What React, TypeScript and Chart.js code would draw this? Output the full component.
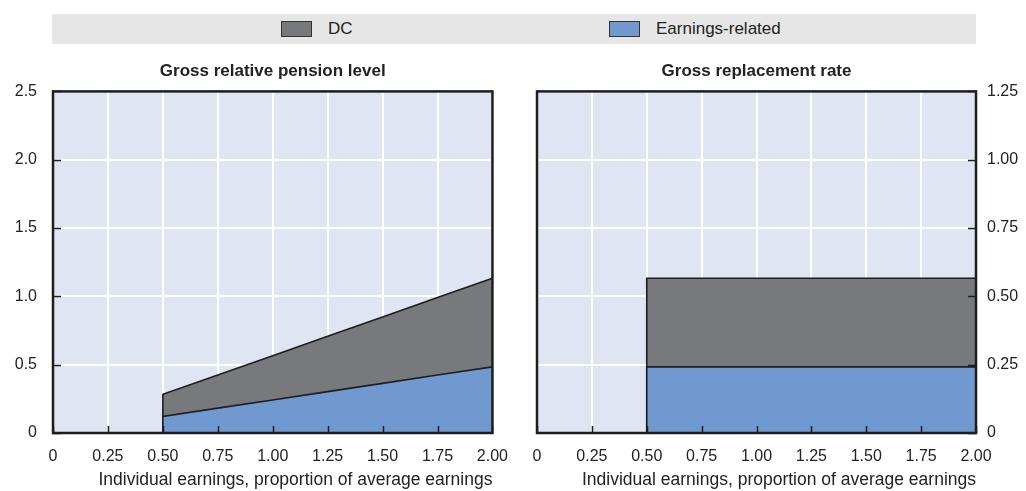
import React, { useEffect, useRef } from "react";
import { Chart, registerables } from "chart.js";

Chart.register(...registerables);

// ---- Data ----
const earnings = [0, 0.25, 0.5, 0.5, 0.75, 1.0, 1.25, 1.5, 1.75, 2.0];
const levelEarningsRelated = [0, 0, 0, 0.121, 0.182, 0.242, 0.303, 0.363, 0.424, 0.484];
const levelDC = [0, 0, 0, 0.162, 0.243, 0.324, 0.405, 0.486, 0.567, 0.648];
const rateEarningsRelated = [0, 0, 0, 0.242, 0.242, 0.242, 0.242, 0.242, 0.242, 0.242];
const rateDC = [0, 0, 0, 0.324, 0.324, 0.324, 0.324, 0.324, 0.324, 0.324];

const xTickLabels = ["0", "0.25", "0.50", "0.75", "1.00", "1.25", "1.50", "1.75", "2.00"];
const yTickLabelsLevel = ["0", "0.5", "1.0", "1.5", "2.0", "2.5"];
const yTickLabelsRate = ["0", "0.25", "0.50", "0.75", "1.00", "1.25"];

const seriesNames = ["DC", "Earnings-related"];
const titles = ["Gross relative pension level", "Gross replacement rate"];
const xTitle = "Individual earnings, proportion of average earnings";

// ---- Styles ----
const COLOR_DC = "#78797c";
const COLOR_ER = "#7099d0";
const PLOT_BG = "#dfe5f2";
const BAND_BG = "#e6e6e6";
const DARK = "#1e1e1e";
const TEXT = "#222222";
const FONT = "'Liberation Sans', Arial, sans-serif";

const frame = {
  id: "frame",
  beforeDraw(chart: any) {
    const { ctx, chartArea: a } = chart;
    ctx.save();
    ctx.fillStyle = PLOT_BG;
    ctx.fillRect(a.left, a.top, a.right - a.left, a.bottom - a.top);
    ctx.restore();
  },
  afterDatasetsDraw(chart: any) {
    const { ctx, chartArea: a } = chart;
    const xs = chart.scales.x;
    const ys = chart.scales.y;
    ctx.save();
    ctx.strokeStyle = DARK;
    ctx.lineWidth = 1.5;
    ctx.beginPath();
    xs.ticks.forEach((t: any) => {
      const px = Math.round(xs.getPixelForValue(t.value)) + 0.5;
      ctx.moveTo(px, a.bottom);
      ctx.lineTo(px, a.bottom - 7);
    });
    const onRight = ys.position === "right";
    ys.ticks.forEach((t: any) => {
      const py = Math.round(ys.getPixelForValue(t.value)) + 0.5;
      if (onRight) {
        ctx.moveTo(a.right, py);
        ctx.lineTo(a.right - 8, py);
      } else {
        ctx.moveTo(a.left, py);
        ctx.lineTo(a.left + 8, py);
      }
    });
    ctx.stroke();
    ctx.lineWidth = 2.5;
    ctx.strokeRect(a.left, a.top, a.right - a.left, a.bottom - a.top);
    ctx.restore();
  },
};

function makeConfig(
  er: number[],
  dc: number[],
  yMax: number,
  yStep: number,
  yLabels: string[],
  title: string,
  yPos: "left" | "right",
  axisWidth: number,
  pad: { left: number; right: number }
): any {
  const erPts = earnings.map((x, i) => ({ x, y: er[i] }));
  const totPts = earnings.map((x, i) => ({ x, y: er[i] + dc[i] }));
  return {
    type: "line",
    data: {
      datasets: [
        {
          label: seriesNames[1],
          data: erPts,
          backgroundColor: COLOR_ER,
          borderColor: DARK,
          borderWidth: 1.6,
          fill: "origin",
          pointRadius: 0,
          tension: 0,
        },
        {
          label: seriesNames[0],
          data: totPts,
          backgroundColor: COLOR_DC,
          borderColor: DARK,
          borderWidth: 1.6,
          fill: "-1",
          pointRadius: 0,
          tension: 0,
        },
      ],
    },
    options: {
      animation: false,
      responsive: false,
      maintainAspectRatio: false,
      layout: { padding: { left: pad.left, right: pad.right, top: 0, bottom: 0 } },
      plugins: {
        legend: { display: false },
        tooltip: { enabled: false },
        title: {
          display: true,
          fullSize: false,
          text: title,
          color: TEXT,
          font: { family: FONT, size: 17, weight: "bold", lineHeight: 1.2 },
          padding: { top: 11, bottom: 10 },
        },
      },
      scales: {
        x: {
          type: "linear",
          min: 0,
          max: 2,
          afterFit: (s: any) => {
            s.height = 58;
          },
          ticks: {
            stepSize: 0.25,
            color: TEXT,
            padding: 14,
            maxRotation: 0,
            autoSkip: false,
            font: { family: FONT, size: 16 },
            callback: (_v: any, i: number) => xTickLabels[i],
          },
          grid: { color: "#ffffff", lineWidth: 2, drawTicks: false },
          border: { display: false },
          title: {
            display: true,
            text: xTitle,
            align: "end",
            color: TEXT,
            font: { family: FONT, size: 17.5, lineHeight: 1.2 },
            padding: { top: 0, bottom: 0 },
          },
        },
        y: {
          type: "linear",
          position: yPos,
          min: 0,
          max: yMax,
          afterFit: (s: any) => {
            s.width = axisWidth;
          },
          ticks: {
            stepSize: yStep,
            color: TEXT,
            padding: yPos === "left" ? 16 : 11,
            font: { family: FONT, size: 16 },
            callback: (_v: any, i: number) => yLabels[i],
          },
          grid: { color: "#ffffff", lineWidth: 2, drawTicks: false },
          border: { display: false },
        },
      },
    },
    plugins: [frame],
  };
}

function Panel(props: { config: any; left: number; width: number }) {
  const ref = useRef<HTMLCanvasElement | null>(null);
  useEffect(() => {
    if (!ref.current) return;
    const chart = new Chart(ref.current, props.config);
    return () => chart.destroy();
  }, []);
  return (
    <canvas
      ref={ref}
      width={props.width}
      height={441}
      style={{ position: "absolute", left: props.left, top: 50, width: props.width, height: 441 }}
    />
  );
}

export default function App() {
  const leftCfg = makeConfig(
    levelEarningsRelated,
    levelDC,
    2.5,
    0.5,
    yTickLabelsLevel,
    titles[0],
    "left",
    53,
    { left: 0, right: 28 }
  );
  const rightCfg = makeConfig(
    rateEarningsRelated,
    rateDC,
    1.25,
    0.25,
    yTickLabelsRate,
    titles[1],
    "right",
    50,
    { left: 22, right: 0 }
  );
  const legendText: React.CSSProperties = {
    position: "absolute",
    top: 14,
    height: 30,
    lineHeight: "30px",
    fontFamily: FONT,
    fontSize: 17,
    color: TEXT,
    whiteSpace: "nowrap",
  };
  const box: React.CSSProperties = {
    position: "absolute",
    top: 21,
    width: 31,
    height: 16,
    boxSizing: "border-box",
    border: "1px solid #333",
  };
  return (
    <div style={{ position: "fixed", left: 0, top: 0, width: 1026, height: 491, background: "#fff", overflow: "hidden" }}>
      <div style={{ position: "absolute", left: 52, top: 14, width: 924, height: 30, background: BAND_BG }} />
      <div style={{ ...box, left: 281, background: COLOR_DC }} />
      <div style={{ ...legendText, left: 328 }}>{seriesNames[0]}</div>
      <div style={{ ...box, left: 609, background: COLOR_ER }} />
      <div style={{ ...legendText, left: 656 }}>{seriesNames[1]}</div>
      <Panel config={leftCfg} left={0} width={522} />
      <Panel config={rightCfg} left={515} width={511} />
    </div>
  );
}
